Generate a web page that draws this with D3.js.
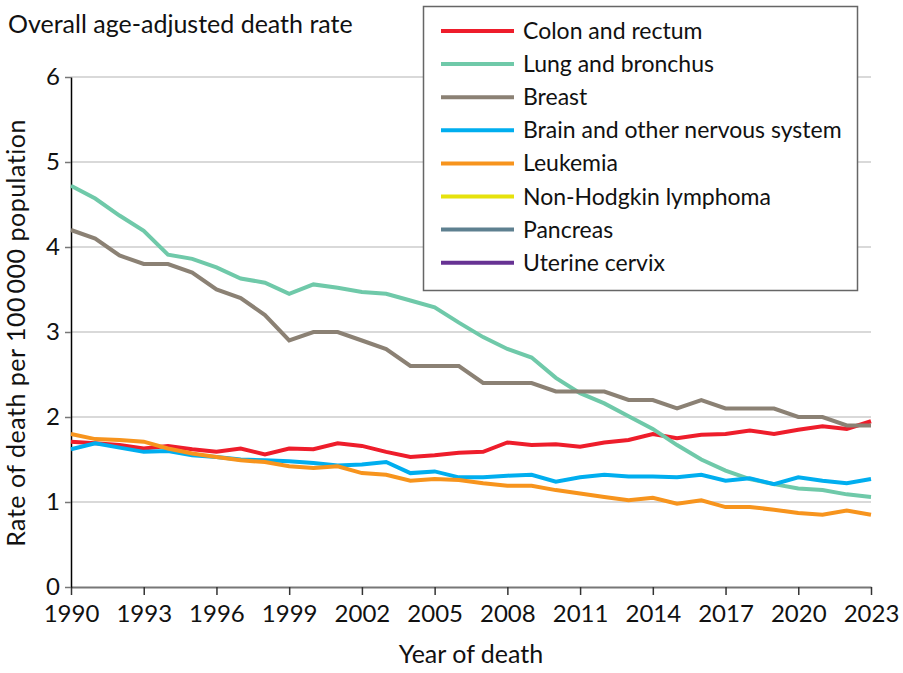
<!DOCTYPE html>
<html>
<head>
<meta charset="utf-8">
<script src="https://cdn.jsdelivr.net/npm/d3@7"></script>
<style>
  body { margin: 0; background: #fff; }
  text { font-family: Lato, "Noto Sans", sans-serif; fill: #111; }
</style>
</head>
<body>
<script>
var width = 903, height = 673

var years = d3.range(1990, 2024)
var tickYears = [1990, 1993, 1996, 1999, 2002, 2005, 2008, 2011, 2014, 2017, 2020, 2023]
var yTicks = [0, 1, 2, 3, 4, 5, 6]

var colon = [1.71, 1.69, 1.67, 1.63, 1.66, 1.62, 1.59, 1.63, 1.56, 1.63, 1.62, 1.69, 1.66, 1.59, 1.53, 1.55, 1.58, 1.59,
  1.70, 1.67, 1.68, 1.65, 1.70, 1.73, 1.80, 1.75, 1.79, 1.80, 1.84, 1.80, 1.85, 1.89, 1.86, 1.95]
var lung = [4.72, 4.57, 4.37, 4.19, 3.91, 3.86, 3.76, 3.63, 3.58, 3.45, 3.56, 3.52, 3.47, 3.45, 3.37, 3.29, 3.11, 2.94,
  2.80, 2.70, 2.46, 2.28, 2.16, 2.01, 1.86, 1.67, 1.50, 1.37, 1.27, 1.21, 1.16, 1.14, 1.09, 1.06]
var breast = [4.2, 4.1, 3.9, 3.8, 3.8, 3.7, 3.5, 3.4, 3.2, 2.9, 3.0, 3.0, 2.9, 2.8, 2.6, 2.6, 2.6, 2.4,
  2.4, 2.4, 2.3, 2.3, 2.3, 2.2, 2.2, 2.1, 2.2, 2.1, 2.1, 2.1, 2.0, 2.0, 1.9, 1.9]
var brain = [1.62, 1.69, 1.64, 1.59, 1.60, 1.55, 1.53, 1.50, 1.49, 1.48, 1.46, 1.43, 1.44, 1.47, 1.34, 1.36, 1.29, 1.29,
  1.31, 1.32, 1.24, 1.29, 1.32, 1.30, 1.30, 1.29, 1.32, 1.25, 1.28, 1.21, 1.29, 1.25, 1.22, 1.27]
var leukemia = [1.80, 1.74, 1.73, 1.71, 1.63, 1.57, 1.53, 1.49, 1.47, 1.42, 1.40, 1.42, 1.34, 1.32, 1.25, 1.27, 1.26, 1.22,
  1.19, 1.19, 1.14, 1.10, 1.06, 1.02, 1.05, 0.98, 1.02, 0.94, 0.94, 0.91, 0.87, 0.85, 0.90, 0.85]

var series = [
  {name: "Colon and rectum", color: "#ee1d2b", values: colon},
  {name: "Lung and bronchus", color: "#6fc9a9", values: lung},
  {name: "Breast", color: "#8b8174", values: breast},
  {name: "Brain and other nervous system", color: "#00aeef", values: brain},
  {name: "Leukemia", color: "#f7941d", values: leukemia},
  {name: "Non-Hodgkin lymphoma", color: "#e6e20c", values: []},
  {name: "Pancreas", color: "#5e8090", values: []},
  {name: "Uterine cervix", color: "#673293", values: []}
]

var svg = d3.select("body").append("svg")
    .attr("width", width)
    .attr("height", height)

var x = d3.scaleLinear().domain([1990, 2023]).range([71, 871])
var y = d3.scaleLinear().domain([0, 6]).range([587, 77])

//gridlines
svg.append("g")
  .selectAll("line")
  .data(yTicks.slice(1))
  .enter().append("line")
  .attr("x1", x(1990)).attr("x2", x(2023))
  .attr("y1", function(d) { return y(d) })
  .attr("y2", function(d) { return y(d) })
  .style("stroke", "#d9d9d9")
  .style("stroke-width", 2)

//x axis
var xAxis = svg.append("g")
  .attr("transform", "translate(0," + y(0) + ")")
  .call(d3.axisBottom(x).tickValues(tickYears).tickFormat(d3.format("d")).tickSize(8).tickSizeOuter(0).tickPadding(6))
xAxis.select(".domain").style("stroke", "#777").style("stroke-width", 2)
xAxis.selectAll(".tick line").style("stroke", "#333").style("stroke-width", 1.5)
xAxis.selectAll(".tick text").attr("dy", "0.86em").style("font-size", "24px").style("fill", "#111")

//y axis
var yAxis = svg.append("g")
  .attr("transform", "translate(" + x(1990) + ",0)")
  .call(d3.axisLeft(y).tickValues(yTicks).tickFormat(d3.format("d")).tickSize(6).tickSizeOuter(0).tickPadding(5))
yAxis.select(".domain").style("stroke", "#000").style("stroke-width", 1.5)
yAxis.selectAll(".tick line").style("stroke", "#777").style("stroke-width", 1.5)
yAxis.selectAll(".tick text").attr("dy", "0.33em").style("font-size", "24px").style("fill", "#111")

var line = d3.line()
  .x(function(d, i) { return x(years[i]) })
  .y(function(d) { return y(d) })

//draw the series
svg.append("g")
  .selectAll("path")
  .data(series.filter(function(s) { return s.values.length }))
  .enter().append("path")
  .attr("d", function(s) { return line(s.values) })
  .style("fill", "none")
  .style("stroke", function(s) { return s.color })
  .style("stroke-width", 4)
  .style("stroke-linejoin", "miter")

//titles
svg.append("text")
  .attr("x", 8).attr("y", 33)
  .style("font-size", "25px")
  .text("Overall age-adjusted death rate")

svg.append("text")
  .attr("transform", "translate(25,333) rotate(-90)")
  .attr("text-anchor", "middle")
  .style("font-size", "25px")
  .style("letter-spacing", "0.5px")
  .text("Rate of death per 100\u2009000 population")

svg.append("text")
  .attr("x", 471).attr("y", 663)
  .attr("text-anchor", "middle")
  .style("font-size", "25px")
  .text("Year of death")

//legend
var legend = svg.append("g")
legend.append("rect")
  .attr("x", 423.5).attr("y", 6.5)
  .attr("width", 434).attr("height", 284)
  .style("fill", "#fff")
  .style("stroke", "#666")
  .style("stroke-width", 1.5)

var item = legend.selectAll("g.item")
  .data(series)
  .enter().append("g")
  .attr("class", "item")
  .attr("transform", function(d, i) { return "translate(0," + (31 + i * 33.1) + ")" })

item.append("line")
  .attr("x1", 441).attr("x2", 514)
  .style("stroke", function(d) { return d.color })
  .style("stroke-width", 4)

item.append("text")
  .attr("x", 523).attr("dy", "0.35em")
  .style("font-size", "23px")
  .text(function(d) { return d.name })
</script>
</body>
</html>
